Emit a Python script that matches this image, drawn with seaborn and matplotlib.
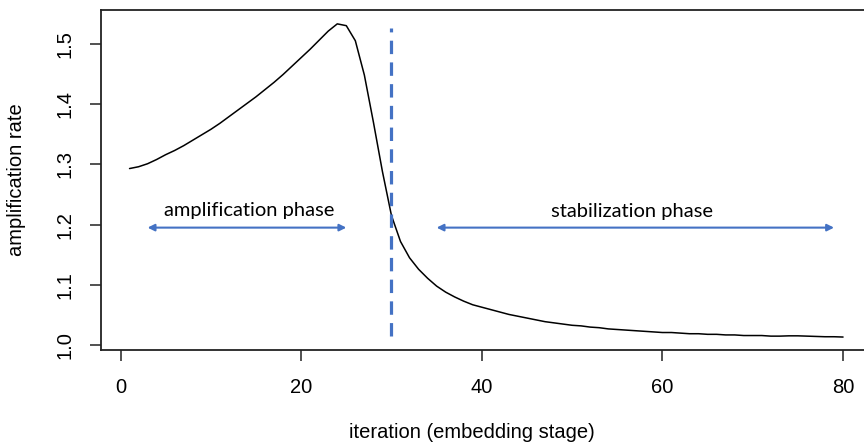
import numpy as np
import pandas as pd
import matplotlib
matplotlib.use("Agg")
import matplotlib.pyplot as plt
import seaborn as sns

# amplification rate per embedding iteration
iterations = list(range(1, 81))
amp_rate = [
    1.293, 1.296, 1.301, 1.308, 1.316, 1.323, 1.331, 1.340, 1.349, 1.358,
    1.368, 1.379, 1.390, 1.401, 1.412, 1.424, 1.436, 1.449, 1.463, 1.477,
    1.491, 1.506, 1.521, 1.533, 1.530, 1.505, 1.448, 1.370, 1.288, 1.215,
    1.172, 1.145, 1.126, 1.111, 1.098, 1.088, 1.080, 1.073, 1.067, 1.063,
    1.059, 1.055, 1.051, 1.048, 1.045, 1.042, 1.039, 1.037, 1.035, 1.033,
    1.032, 1.030, 1.029, 1.027, 1.026, 1.025, 1.024, 1.023, 1.022, 1.021,
    1.021, 1.020, 1.019, 1.019, 1.018, 1.018, 1.017, 1.017, 1.016, 1.016,
    1.016, 1.015, 1.015, 1.0155, 1.0155, 1.015, 1.0145, 1.014, 1.014, 1.0135,
]
x_ticks = [0, 20, 40, 60, 80]
y_ticks = [1.0, 1.1, 1.2, 1.3, 1.4, 1.5]
y_tick_labels = ["1.0", "1.1", "1.2", "1.3", "1.4", "1.5"]
phase_split = 30
amp_phase = (3, 25)
stab_phase = (35, 79)
arrow_level = 1.195

sns.set_style("ticks")
plt.rcParams["font.family"] = ["Liberation Sans", "DejaVu Sans"]
plt.rcParams["text.color"] = "black"
plt.rcParams["axes.labelcolor"] = "black"
plt.rcParams["xtick.color"] = "black"
plt.rcParams["ytick.color"] = "black"

df = pd.DataFrame({"iteration": iterations, "rate": amp_rate})

fig = plt.figure(figsize=(8.64, 4.47), dpi=100)
ax = fig.add_axes([101 / 864, 1 - 350 / 447, 770.6 / 864, 340 / 447])

sns.lineplot(data=df, x="iteration", y="rate", color="black", linewidth=1.1, ax=ax)

blue = "#4472C4"
ax.vlines(phase_split, 1.016, 1.526, colors=blue, linewidth=2.3,
          linestyles=(0, (4.2, 2.6)))

for (a, b) in (amp_phase, stab_phase):
    ax.annotate("", xy=(b, arrow_level), xytext=(a, arrow_level),
                arrowprops=dict(arrowstyle="<|-|>", color=blue, lw=1.5,
                                mutation_scale=10, shrinkA=0, shrinkB=0))

ax.text(14.3, 1.224, "amplification phase", ha="center", va="center",
        fontsize=14.5, family=["Lato", "DejaVu Sans"], color="black")
ax.text(56.6, 1.221, "stabilization phase", ha="center", va="center",
        fontsize=14.5, family=["Lato", "DejaVu Sans"], color="black")

ax.set_xlim(-2.16, 83.16)
ax.set_ylim(0.992, 1.556)
ax.set_xticks(x_ticks)
ax.set_yticks(y_ticks)
ax.set_yticklabels(y_tick_labels, rotation=90, va="center")
ax.tick_params(axis="both", length=8, width=1.1, color="#222222",
               labelsize=14.5, labelcolor="black", direction="out")
ax.tick_params(axis="x", pad=12)
ax.tick_params(axis="y", pad=11)

for s in ax.spines.values():
    s.set_visible(True)
    s.set_linewidth(1.3)
    s.set_color("#222222")

ax.set_xlabel("iteration (embedding stage)", fontsize=14.5, va="center", color="black")
ax.set_ylabel("amplification rate", fontsize=14.5, va="center", color="black")
ax.xaxis.set_label_coords((472 - 101) / 770.6, (350 - 433) / 340)
ax.yaxis.set_label_coords((17 - 101) / 770.6, 0.5)

fig.savefig("out.png", dpi=100)
